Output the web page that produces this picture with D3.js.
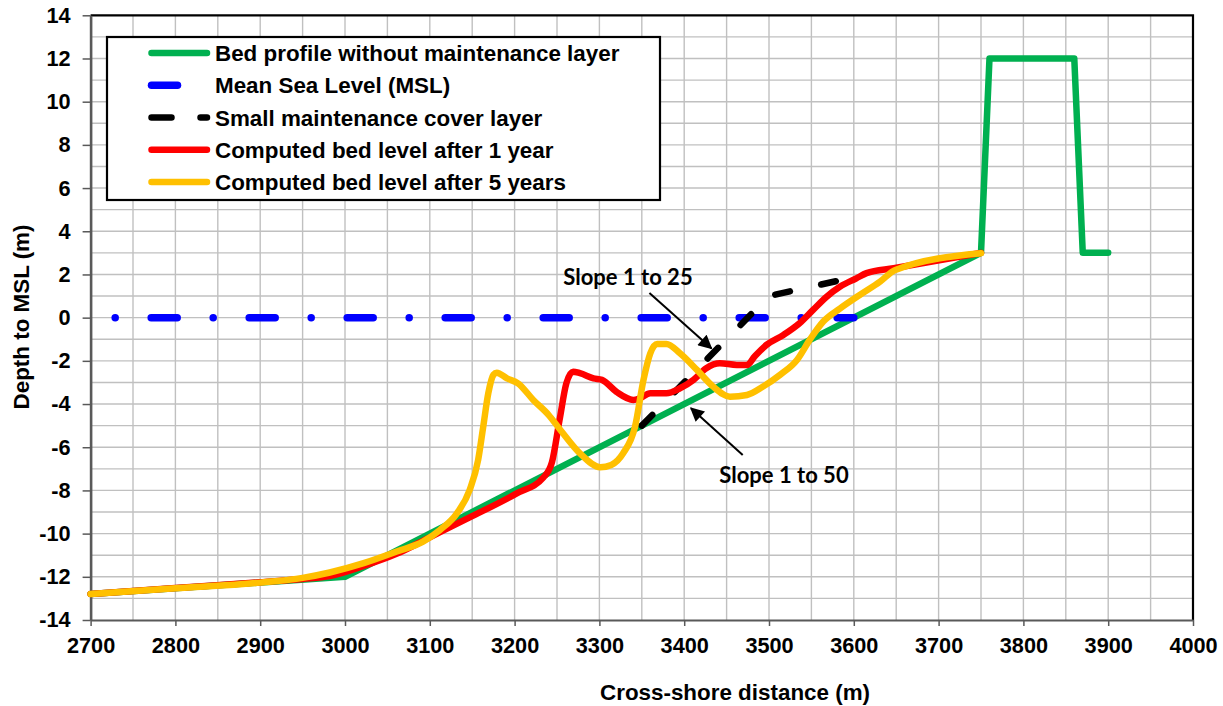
<!DOCTYPE html>
<html>
<head>
<meta charset="utf-8">
<script src="https://cdn.jsdelivr.net/npm/d3@7"></script>
<style>
  html, body { margin: 0; padding: 0; background: #fff; }
  svg { display: block; }
  .axis text { font-family: "Liberation Sans", Arial, sans-serif; font-weight: bold; font-size: 21.7px; fill: #000; }
  .axis path, .axis line { stroke: #595959; }
</style>
</head>
<body>
<svg id="chart" width="1223" height="706"></svg>
<script>
// Bed profile without maintenance layer
const bedX = [2700, 3000, 3750, 3760, 3860, 3870, 3900];
const bedY = [-12.8, -12.0, 3.0, 12.0, 12.0, 3.0, 3.0];

// Mean sea level
const mslX = [2729, 3600];
const mslY = [0, 0];

// Small maintenance cover layer (1:25 then flatter)
const coverX = [3350, 3500, 3600];
const coverY = [-5.0, 1.0, 1.87];

// Computed bed level after 1 year
const year1X = [2700, 2800, 2900, 2950, 2982, 3022, 3060, 3100, 3147, 3202, 3234, 3244, 3253, 3261, 3269, 3277, 3293, 3303, 3320, 3340, 3348, 3360, 3379, 3395, 3411, 3426, 3442, 3462, 3474, 3483, 3497, 3517, 3536, 3552, 3568, 3584, 3603, 3615, 3647, 3750];
const year1Y = [-12.8, -12.52, -12.25, -12.1, -11.97, -11.5, -10.95, -10.17, -9.25, -8.15, -7.4, -6.7, -4.74, -3.04, -2.5, -2.57, -2.81, -2.88, -3.43, -3.81, -3.73, -3.5, -3.5, -3.27, -2.88, -2.34, -2.11, -2.19, -2.19, -1.8, -1.26, -0.8, -0.26, 0.36, 0.97, 1.44, 1.82, 2.06, 2.29, 3.0];

// Computed bed level after 5 years
const year5X = [2700, 2800, 2900, 2950, 2982, 3022, 3061, 3092, 3112, 3132, 3147, 3157, 3163, 3169, 3175, 3179, 3191, 3204, 3222, 3240, 3254, 3277, 3301, 3314, 3328, 3342, 3352, 3360, 3368, 3379, 3395, 3415, 3434, 3454, 3474, 3493, 3513, 3533, 3548, 3564, 3584, 3607, 3631, 3649, 3750];
const year5Y = [-12.8, -12.53, -12.27, -12.05, -11.8, -11.37, -10.83, -10.37, -9.83, -9.06, -7.98, -6.59, -5.05, -3.5, -2.65, -2.55, -2.81, -3.04, -3.81, -4.5, -5.2, -6.28, -6.93, -6.82, -6.28, -5.05, -2.88, -1.65, -1.22, -1.22, -1.65, -2.42, -3.19, -3.66, -3.58, -3.19, -2.65, -1.96, -1.03, -0.18, 0.43, 1.05, 1.67, 2.21, 2.98];

// Axis ticks
const xTicks = [2700, 2800, 2900, 3000, 3100, 3200, 3300, 3400, 3500, 3600, 3700, 3800, 3900, 4000];
const yTicks = [-14, -12, -10, -8, -6, -4, -2, 0, 2, 4, 6, 8, 10, 12, 14];

const legendLabels = [
  "Bed profile without maintenance layer",
  "Mean Sea Level (MSL)",
  "Small maintenance cover layer",
  "Computed bed level after 1 year",
  "Computed bed level after 5 years"
];

const svg = d3.select("#chart");
const plot = { left: 90.6, right: 1193, top: 15.3, bottom: 620 };

const x = d3.scaleLinear().domain([2700, 4000]).range([plot.left, plot.right]);
const y = d3.scaleLinear().domain([-14, 14]).range([plot.bottom, plot.top]);

// Grid
const grid = svg.append("g").attr("stroke", "#c0c0c0").attr("stroke-width", 1.4);
grid.selectAll("line.v").data(d3.range(2750, 4000, 50)).join("line")
  .attr("x1", d => x(d)).attr("x2", d => x(d))
  .attr("y1", plot.top).attr("y2", plot.bottom);
grid.selectAll("line.h").data(d3.range(-13, 14, 1)).join("line")
  .attr("x1", plot.left).attr("x2", plot.right)
  .attr("y1", d => y(d)).attr("y2", d => y(d));

// Plot frame (top and right)
svg.append("path")
  .attr("d", `M${plot.left},${plot.top}H${plot.right}V${plot.bottom}`)
  .attr("fill", "none").attr("stroke", "#000").attr("stroke-width", 2.2);

// Axes
const xAxis = d3.axisBottom(x).tickValues(xTicks).tickFormat(d3.format("d")).tickSizeInner(6).tickSizeOuter(0).tickPadding(11.5);
const yAxis = d3.axisLeft(y).tickValues(yTicks).tickFormat(d3.format("d")).tickSizeInner(8).tickSizeOuter(0).tickPadding(12);

const gx = svg.append("g").attr("class", "axis").attr("transform", `translate(0,${plot.bottom})`).call(xAxis);
const gy = svg.append("g").attr("class", "axis").attr("transform", `translate(${plot.left},0)`).call(yAxis);
gx.select(".domain").attr("stroke-width", 2.2);
gy.select(".domain").attr("stroke-width", 2.6);
gx.selectAll(".tick line").attr("stroke-width", 1.5);
gy.selectAll(".tick line").attr("stroke-width", 1.5);
gy.selectAll(".tick text").text(d => d < 0 ? "-" + Math.abs(d) : d);

// Axis titles
svg.append("text")
  .attr("x", 735).attr("y", 700)
  .attr("text-anchor", "middle")
  .attr("font-family", "Liberation Sans, Arial, sans-serif")
  .attr("font-weight", "bold").attr("font-size", 22.4)
  .text("Cross-shore distance (m)");
svg.append("text")
  .attr("transform", "translate(29,317) rotate(-90)")
  .attr("text-anchor", "middle")
  .attr("font-family", "Liberation Sans, Arial, sans-serif")
  .attr("font-weight", "bold").attr("font-size", 22.4)
  .text("Depth to MSL (m)");

// Series
const lineGen = d3.line().x(d => x(d[0])).y(d => y(d[1]));
const smooth = d3.line().x(d => x(d[0])).y(d => y(d[1])).curve(d3.curveMonotoneX);
const zip = (xs, ys) => xs.map((v, i) => [v, ys[i]]);

const series = svg.append("g").attr("fill", "none").attr("stroke-linecap", "round").attr("stroke-linejoin", "round");

series.append("path").attr("d", lineGen(zip(bedX, bedY)))
  .attr("stroke", "#00b050").attr("stroke-width", 6.5);

series.append("path").attr("d", lineGen(zip(mslX, mslY)))
  .attr("stroke", "#0000ff").attr("stroke-width", 7.5)
  .attr("stroke-dasharray", "0,36,26,36");

series.append("path").attr("d", lineGen(zip(coverX, coverY)))
  .attr("stroke", "#000").attr("stroke-width", 6.5)
  .attr("stroke-dasharray", "15,32");

series.append("path").attr("d", smooth(zip(year1X, year1Y)))
  .attr("stroke", "#ff0000").attr("stroke-width", 6.5);

series.append("path").attr("d", smooth(zip(year5X, year5Y)))
  .attr("stroke", "#ffc000").attr("stroke-width", 6.5);

// Legend
const legend = svg.append("g");
legend.append("rect")
  .attr("x", 107).attr("y", 37).attr("width", 553).attr("height", 163)
  .attr("fill", "#fff").attr("stroke", "#000").attr("stroke-width", 2.2);

const legendStyles = [
  { color: "#00b050", dash: null, width: 6.5 },
  { color: "#0000ff", dash: "26,100", width: 7.5 },
  { color: "#000", dash: "20,29", width: 6.5 },
  { color: "#ff0000", dash: null, width: 6.5 },
  { color: "#ffc000", dash: null, width: 6.5 }
];
legendLabels.forEach((label, i) => {
  const cy = 53 + i * 32.25;
  const st = legendStyles[i];
  legend.append("line")
    .attr("x1", 151.5).attr("x2", 207).attr("y1", cy).attr("y2", cy)
    .attr("stroke", st.color).attr("stroke-width", st.width)
    .attr("stroke-linecap", "round")
    .attr("stroke-dasharray", st.dash);
  legend.append("text")
    .attr("x", 215).attr("y", cy).attr("dy", "0.36em")
    .attr("font-family", "Liberation Sans, Arial, sans-serif")
    .attr("font-weight", "bold").attr("font-size", 22.4)
    .text(label);
});

// Slope annotations
const defs = svg.append("defs");
defs.append("marker")
  .attr("id", "arrowhead")
  .attr("viewBox", "0 0 10 10").attr("refX", 9).attr("refY", 5)
  .attr("markerWidth", 7.5).attr("markerHeight", 7)
  .attr("markerUnits", "strokeWidth")
  .attr("orient", "auto")
  .append("path").attr("d", "M0,0L10,5L0,10z").attr("fill", "#000");

const annotations = [
  { text: "Slope 1 to 25", tx: 628, ty: 285, from: [3359, 1.14], to: [3432, -1.42] },
  { text: "Slope 1 to 50", tx: 784, ty: 483, from: [3469, -6.36], to: [3408, -4.19] }
];
annotations.forEach(a => {
  svg.append("text")
    .attr("x", a.tx).attr("y", a.ty)
    .attr("text-anchor", "middle")
    .attr("font-family", "Lato, 'Open Sans', sans-serif")
    .attr("font-weight", "bold").attr("font-size", 22)
    .text(a.text);
  svg.append("line")
    .attr("x1", x(a.from[0])).attr("y1", y(a.from[1]))
    .attr("x2", x(a.to[0])).attr("y2", y(a.to[1]))
    .attr("stroke", "#000").attr("stroke-width", 2)
    .attr("marker-end", "url(#arrowhead)");
});
</script>
</body>
</html>
